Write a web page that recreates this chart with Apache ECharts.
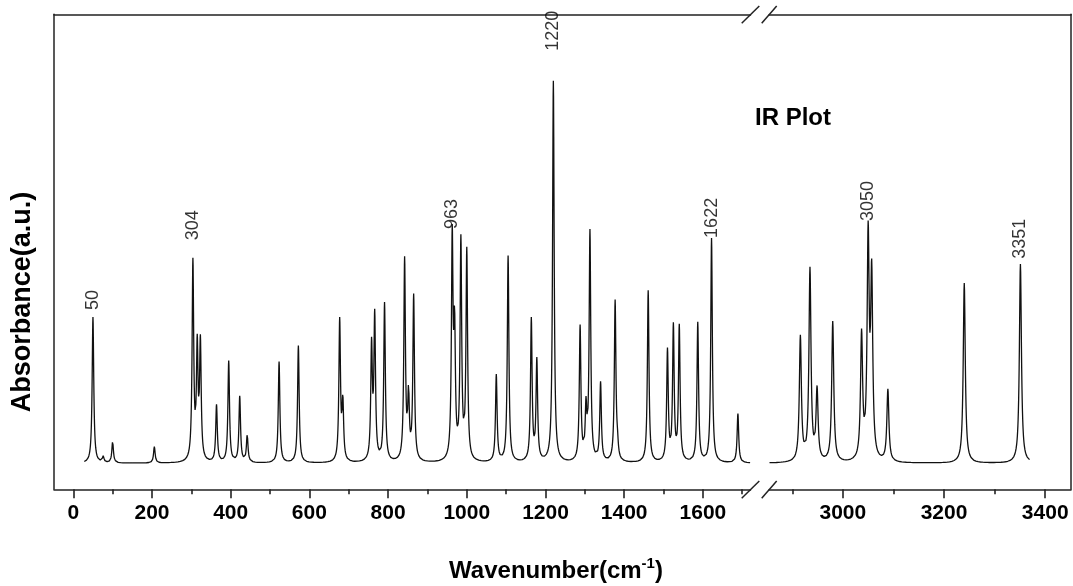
<!DOCTYPE html>
<html>
<head>
<meta charset="utf-8">
<script src="https://cdn.jsdelivr.net/npm/echarts@6/dist/echarts.min.js"></script>
<style>
html,body{margin:0;padding:0;background:#fff;}
#chart{width:1073px;height:586px;}
</style>
</head>
<body>
<div id="chart"></div>
<script>
// ---- data ----
// stick spectrum: band positions (cm-1) and intensities (a.u., strongest = 100)
const peakPositions = [50, 76, 100, 206, 304, 315, 323, 364, 395, 423, 442, 523, 572, 677, 685,
  758, 766, 791, 842, 852, 865, 963, 969, 985, 1000, 1075, 1105, 1164, 1178, 1220, 1288, 1303,
  1313, 1340, 1377, 1383, 1461, 1510, 1525, 1540, 1587, 1622, 1689,
  2916, 2935, 2949, 2980, 3037, 3050, 3057, 3089, 3240, 3351];
const peakIntensities = [38.3, 1.6, 5.6, 4.3, 52, 29, 30.5, 15, 26.6, 17.3, 7.2, 26.5, 30.7, 37, 15,
  29.7, 37.5, 41.5, 52.7, 16.5, 43.2, 57.3, 31.9, 57.2, 54.8, 22.8, 54.1, 37.2, 26.3, 100, 35.2, 13.2,
  60, 20.6, 42.2, 3, 45.1, 29, 35.2, 35.3, 36.6, 58.8, 12.9,
  32.7, 50.3, 18.5, 36.8, 32.6, 57.5, 47, 18.9, 47.2, 52.2];
const bandHalfWidth = 2.4;               // Lorentzian half width (cm-1) of the plotted bands
const leftRange = [28, 1720];            // plotted wavenumber span, low region
const rightRange = [2855, 3370];         // plotted wavenumber span, high region
// annotated peaks and the height (a.u.) at which their labels sit
const labelledPeaks = [50, 304, 963, 1220, 1622, 3050, 3351];
const labelHeights = [41, 59.3, 62.2, 109, 59.9, 64.3, 54.4];
// axis ticks
const leftMajorTicks = [0, 200, 400, 600, 800, 1000, 1200, 1400, 1600];
const leftMinorTicks = [100, 300, 500, 700, 900, 1100, 1300, 1500, 1700];
const rightMajorTicks = [3000, 3200, 3400];
const rightMinorTicks = [2900, 3100, 3300];

// ---- broadened spectrum from the band list ----
function spectrum(range) {
  const pts = [];
  const g2 = bandHalfWidth * bandHalfWidth;
  for (let x = range[0]; x <= range[1] + 1e-9; x += 0.5) {
    let y = 0;
    for (let i = 0; i < peakPositions.length; i++) {
      const d = x - peakPositions[i];
      y += peakIntensities[i] * g2 / (d * d + g2);
    }
    pts.push([x, y]);
  }
  return pts;
}

const FONT = '"Liberation Sans", Arial, sans-serif';
const AX = '#222';

function labelAxis(grid, min, max, major) {
  return {
    type: 'value', gridIndex: grid, position: 'bottom', min: min, max: max,
    axisLine: { show: true, onZero: false, lineStyle: { color: AX, width: 1.5 } },
    axisTick: { show: false },
    axisLabel: { show: true, customValues: major, formatter: v => String(v), color: '#000', fontFamily: FONT, fontWeight: 'bold', fontSize: 21, margin: 13 },
    splitLine: { show: false }
  };
}
function tickAxis(grid, min, max, ticks, len) {
  return {
    type: 'value', gridIndex: grid, position: 'bottom', min: min, max: max,
    axisLine: { show: false, onZero: false },
    axisTick: { show: true, inside: false, length: len, customValues: ticks, lineStyle: { color: AX, width: 1.6 } },
    axisLabel: { show: false },
    splitLine: { show: false }
  };
}
function topAxis(grid, min, max) {
  return {
    type: 'value', gridIndex: grid, position: 'top', min: min, max: max,
    axisLine: { show: true, onZero: false, lineStyle: { color: AX, width: 1.5 } },
    axisTick: { show: false }, axisLabel: { show: false }, splitLine: { show: false }
  };
}
function yAx(grid, pos) {
  return {
    type: 'value', gridIndex: grid, position: pos, min: -6.82, max: 117.75,
    axisLine: { show: true, onZero: false, lineStyle: { color: AX, width: 1.5 } },
    axisTick: { show: false }, axisLabel: { show: false }, splitLine: { show: false }
  };
}

const L = { min: -49, max: 1721 };
const R = { min: 2854, max: 3451 };

function labelSeries(xi, yi, inRange) {
  const data = [];
  labelledPeaks.forEach((p, i) => { if (inRange(p)) data.push([p, labelHeights[i]]); });
  return {
    type: 'scatter', xAxisIndex: xi, yAxisIndex: yi, symbolSize: 0, silent: true,
    data: data,
    label: {
      show: true, position: 'top', distance: 0, rotate: 90, align: 'left', verticalAlign: 'middle',
      offset: [-3, 0],
      formatter: p => String(p.value[0]),
      color: '#000', fontFamily: FONT, fontSize: 18
    }
  };
}

const lineStyle = { color: '#111', width: 1.3 };

const chart = echarts.init(document.getElementById('chart'), null, { renderer: 'canvas' });
chart.setOption({
  animation: false,
  backgroundColor: '#fff',
  grid: [
    { left: 54, top: 14.3, width: 696.5, height: 475 },
    { left: 769, top: 14.3, width: 302, height: 475 }
  ],
  xAxis: [
    labelAxis(0, L.min, L.max, leftMajorTicks),
    tickAxis(0, L.min, L.max, leftMajorTicks, 9),
    tickAxis(0, L.min, L.max, leftMinorTicks, 5),
    topAxis(0, L.min, L.max),
    labelAxis(1, R.min, R.max, rightMajorTicks),
    tickAxis(1, R.min, R.max, rightMajorTicks, 9),
    tickAxis(1, R.min, R.max, rightMinorTicks, 5),
    topAxis(1, R.min, R.max)
  ],
  yAxis: [yAx(0, 'left'), yAx(1, 'right')],
  series: [
    { type: 'line', xAxisIndex: 0, yAxisIndex: 0, data: spectrum(leftRange), showSymbol: false, symbol: 'none', sampling: null, lineStyle: lineStyle, silent: true },
    { type: 'line', xAxisIndex: 4, yAxisIndex: 1, data: spectrum(rightRange), showSymbol: false, symbol: 'none', sampling: null, lineStyle: lineStyle, silent: true },
    labelSeries(0, 0, p => p < 2000),
    labelSeries(4, 1, p => p > 2000)
  ],
  graphic: [
    // axis-break marks
    { type: 'line', shape: { x1: 741.7, y1: 498.3, x2: 759.3, y2: 481 }, style: { stroke: AX, lineWidth: 1.5 } },
    { type: 'line', shape: { x1: 761.7, y1: 498.3, x2: 776.7, y2: 481 }, style: { stroke: AX, lineWidth: 1.5 } },
    { type: 'line', shape: { x1: 741.7, y1: 23.3, x2: 759.3, y2: 6 }, style: { stroke: AX, lineWidth: 1.5 } },
    { type: 'line', shape: { x1: 761.7, y1: 23.3, x2: 776.7, y2: 6 }, style: { stroke: AX, lineWidth: 1.5 } },
    // axis titles
    { type: 'text', x: 23, y: 302, rotation: Math.PI / 2,
      style: { text: 'Absorbance(a.u.)', font: 'bold 27px ' + FONT, fill: '#000', textAlign: 'center', textVerticalAlign: 'middle' } },
    { type: 'text', x: 556, y: 570,
      style: { text: '{a|Wavenumber(cm}{s|-1}{a|)}', textAlign: 'center', textVerticalAlign: 'middle',
        rich: {
          a: { font: 'bold 24px ' + FONT, fill: '#000', verticalAlign: 'bottom' },
          s: { font: 'bold 15px ' + FONT, fill: '#000', verticalAlign: 'top', padding: [0, 0, 12, 0] }
        } } },
    { type: 'text', x: 793, y: 118,
      style: { text: 'IR Plot', font: 'bold 24px ' + FONT, fill: '#000', textAlign: 'center', textVerticalAlign: 'middle' } }
  ]
});
</script>
</body>
</html>
